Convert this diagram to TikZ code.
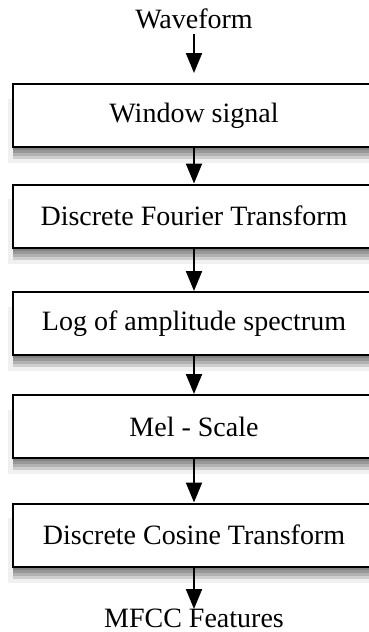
\documentclass[tikz,border=0pt]{standalone}
\usepackage{fontspec}
\setmainfont{Liberation Serif}
\usetikzlibrary{arrows.meta,shadows}

\begin{document}
\begin{tikzpicture}[x=0.5pt,y=-0.5pt,
    font=\fontsize{14}{17}\selectfont,
    soft/.style={drop shadow={shadow xshift=0pt,shadow yshift=-#1,fill=black,opacity=.14}},
    stage/.style={draw,line width=1pt,fill=white,minimum width=181pt,minimum height=31.5pt,
        drop shadow={shadow xshift=0pt,shadow yshift=-7.5pt,shadow scale=1.03,fill=black,opacity=.06},
        soft=6pt,soft=4.5pt,soft=3pt,soft=1.5pt},
    flow/.style={line width=1pt,-{Triangle[length=10pt,width=8pt]}}]
    \useasboundingbox (0,0) rectangle (369,632);
    % input and output labels
    \node[anchor=base] (wave) at (194,28) {Waveform};
    \node[anchor=base] (mfcc) at (194,627) {MFCC Features};
    % processing stages
    \node[stage] (win) at (194,115.5) {Window signal};
    \node[stage] (dft) at (194,216) {Discrete Fourier Transform};
    \node[stage] (log) at (194,323.5) {Log of amplitude spectrum};
    \node[stage] (mel) at (194,426.5) {Mel - Scale};
    \node[stage] (dct) at (194,535) {Discrete Cosine Transform};
    % arrows
    \draw[flow] ([yshift=-3pt]wave.base) -- ([yshift=5pt]win.north);
    \draw[flow] (win) -- (dft);
    \draw[flow] (dft) -- (log);
    \draw[flow] (log) -- (mel);
    \draw[flow] (mel) -- (dct);
    \draw[flow] (dct.south) -- ([yshift=9pt]mfcc.base);
\end{tikzpicture}
\end{document}
